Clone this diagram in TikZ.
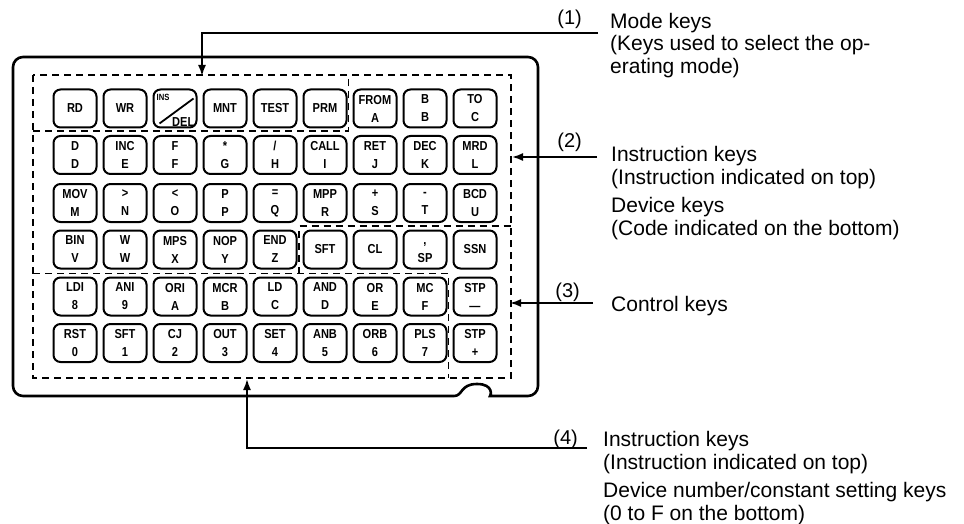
\documentclass[tikz,border=0pt]{standalone}
\usepackage{fontspec}
\setmainfont{Liberation Sans}
\newfontfamily\keyfont[FakeStretch=0.85]{Liberation Sans}
\usetikzlibrary{arrows.meta}

\begin{document}
\begin{tikzpicture}[x=1pt, y=-1pt, node distance = 50pt,
        key/.style = {draw, line width=2pt, rounded corners=7pt, minimum width=43pt, minimum height=38pt,
            inner sep=0pt, align=center, font={\keyfont\bfseries\fontsize{13}{18}\selectfont}},
        body/.style = {line width=2.6pt},
        zone/.style = {line width=1.5pt, dash pattern=on 7pt off 5pt},
        lead/.style = {line width=1.8pt},
        tip/.style = {-{Latex[length=11pt, width=8pt]}},
        note/.style = {anchor=north west, inner sep=0pt, align=left, font={\fontsize{21}{22.5}\selectfont}},
        num/.style = {anchor=base east, inner sep=0pt, font={\fontsize{20}{22}\selectfont}}]
        \useasboundingbox (0,0) rectangle (964,524);
        \fill[white] (0,0) rectangle (964,524);

        \draw[body] (300,57) [rounded corners=10pt] -- (538,57) -- (538,396) -- (500,396) [sharp corners]
            .. controls (491,396) and (494,384) .. (477,384) .. controls (460,384) and (463,396) .. (454,396)
            [rounded corners=10pt] -- (13,396) -- (13,57) -- cycle;

        \node (k11) [key] at (75,108.5) {RD};
        \node (k12) [key, right of = k11] {WR};
        \node (k13) [key, right of = k12] {};
        \node (k14) [key, right of = k13] {MNT};
        \node (k15) [key, right of = k14] {TEST};
        \node (k16) [key, right of = k15] {PRM};
        \node (k17) [key, right of = k16] {FROM\\A};
        \node (k18) [key, right of = k17] {B\\B};
        \node (k19) [key, right of = k18] {TO\\C};

        \node (ins) [anchor=north west, inner sep=0pt, font={\keyfont\bfseries\fontsize{9}{9}\selectfont}]
            at ([shift={(4,6)}]k13.north west) {INS};
        \node (del) [anchor=south east, inner sep=0pt, font={\keyfont\bfseries\fontsize{13}{13}\selectfont}]
            at ([shift={(-3,-2)}]k13.south east) {DEL};
        \draw[line width=1.8pt] ([shift={(7,-5)}]k13.south west) -- ([shift={(-4,10)}]k13.north east);

        \node (k21) [key] at (75,155) {D\\D};
        \node (k22) [key, right of = k21] {INC\\E};
        \node (k23) [key, right of = k22] {F\\F};
        \node (k24) [key, right of = k23] {*\\G};
        \node (k25) [key, right of = k24] {/\\H};
        \node (k26) [key, right of = k25] {CALL\\I};
        \node (k27) [key, right of = k26] {RET\\J};
        \node (k28) [key, right of = k27] {DEC\\K};
        \node (k29) [key, right of = k28] {MRD\\L};

        \node (k31) [key] at (75,203) {MOV\\M};
        \node (k32) [key, right of = k31] {>\\N};
        \node (k33) [key, right of = k32] {<\\O};
        \node (k34) [key, right of = k33] {P\\P};
        \node (k35) [key, right of = k34] {=\\Q};
        \node (k36) [key, right of = k35] {MPP\\R};
        \node (k37) [key, right of = k36] {+\\S};
        \node (k38) [key, right of = k37] {-\\T};
        \node (k39) [key, right of = k38] {BCD\\U};

        \node (k41) [key] at (75,249.5) {BIN\\V};
        \node (k42) [key, right of = k41] {W\\W};
        \node (k43) [key, right of = k42] {MPS\\X};
        \node (k44) [key, right of = k43] {NOP\\Y};
        \node (k45) [key, right of = k44] {END\\Z};
        \node (k46) [key, right of = k45] {SFT};
        \node (k47) [key, right of = k46] {CL};
        \node (k48) [key, right of = k47] {\vphantom{A},\\SP};
        \node (k49) [key, right of = k48] {SSN};

        \node (k51) [key] at (75,296.5) {LDI\\8};
        \node (k52) [key, right of = k51] {ANI\\9};
        \node (k53) [key, right of = k52] {ORI\\A};
        \node (k54) [key, right of = k53] {MCR\\B};
        \node (k55) [key, right of = k54] {LD\\C};
        \node (k56) [key, right of = k55] {AND\\D};
        \node (k57) [key, right of = k56] {OR\\E};
        \node (k58) [key, right of = k57] {MC\\F};
        \node (k59) [key, right of = k58] {STP\\\vphantom{A}—};

        \node (k61) [key] at (75,343) {RST\\0};
        \node (k62) [key, right of = k61] {SFT\\1};
        \node (k63) [key, right of = k62] {CJ\\2};
        \node (k64) [key, right of = k63] {OUT\\3};
        \node (k65) [key, right of = k64] {SET\\4};
        \node (k66) [key, right of = k65] {ANB\\5};
        \node (k67) [key, right of = k66] {ORB\\6};
        \node (k68) [key, right of = k67] {PLS\\7};
        \node (k69) [key, right of = k68] {STP\\\vphantom{A}+};

        \draw[zone] (33,75) rectangle (511,378);
        \draw[zone] (33,131) -- (348.5,131) -- (348.5,75);
        \draw[zone] (33,273.5) -- (448.5,273.5) -- (448.5,378);
        \draw[zone] (299,273.5) -- (299,226) -- (511,226);

        \coordinate (from1) at (598,33);
        \coordinate (to1) at (202,76);
        \coordinate (from2) at (597,157);
        \coordinate (to2) at (512,157);
        \coordinate (from3) at (593,303);
        \coordinate (to3) at (510,303);
        \coordinate (from4) at (587,448);
        \coordinate (to4) at (247,379);

        \draw[lead, tip] (from1) -| (to1);
        \draw[lead, tip] (from2) -- (to2);
        \draw[lead, tip] (from3) -- (to3);
        \draw[lead, tip] (from4) -| (to4);

        \node (n1) [num] at (582,25) {(1)};
        \node (n2) [num] at (582,148) {(2)};
        \node (n3) [num] at (580,297) {(3)};
        \node (n4) [num] at (578,444) {(4)};

        \node (t1) [note] at (610,13) {Mode keys\\(Keys used to select the op-\\erating mode)};
        \node (t2) [note] at (611,146.5) {Instruction keys\\(Instruction indicated on top)\\[6pt]Device keys\\(Code indicated on the bottom)};
        \node (t3) [note] at (611,296.5) {Control keys};
        \node (t4) [note] at (603,431.5) {Instruction keys\\(Instruction indicated on top)\\[6pt]Device number/constant setting keys\\(0 to F on the bottom)};
    \end{tikzpicture}
\end{document}
